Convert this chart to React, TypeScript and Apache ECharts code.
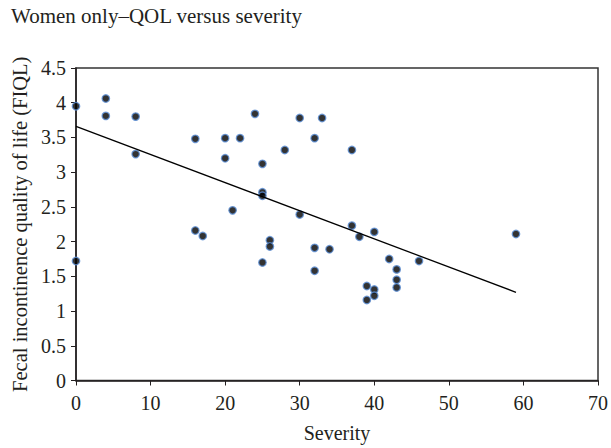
import React, { useEffect, useRef } from "react";
import * as echarts from "echarts";

const severity = [0, 0, 4, 4, 8, 8, 16, 16, 17, 20, 20, 21, 22, 24, 25, 25, 25, 25, 26, 26, 28, 30, 30, 32, 32, 32, 33, 34, 37, 37, 38, 39, 39, 40, 40, 40, 42, 43, 43, 43, 46, 59];
const fiql = [3.95, 1.72, 4.06, 3.81, 3.8, 3.26, 3.48, 2.16, 2.08, 3.49, 3.2, 2.45, 3.49, 3.84, 3.12, 2.71, 2.66, 1.7, 2.02, 1.93, 3.32, 3.78, 2.39, 3.49, 1.91, 1.58, 3.78, 1.89, 3.32, 2.23, 2.07, 1.36, 1.16, 2.14, 1.31, 1.22, 1.75, 1.6, 1.45, 1.34, 1.72, 2.11];
const trendX = [0, 59];
const trendY = [3.66, 1.27];

const FONT = "'Liberation Serif', 'DejaVu Serif', serif";
const INK = "#231f20";

export default function App() {
  const ref = useRef<HTMLDivElement>(null);
  useEffect(() => {
    if (!ref.current) return;
    const chart = echarts.init(ref.current, null, { renderer: "svg" });
    chart.setOption({
      animation: false,
      backgroundColor: "#fff",
      title: {
        text: "Women only–QOL versus severity",
        left: 11,
        top: 5,
        padding: 0,
        textStyle: { fontFamily: FONT, fontSize: 21, fontWeight: "normal", color: INK },
      },
      grid: {
        left: 76,
        right: 11,
        top: 68,
        bottom: 62.5,
        show: true,
        borderColor: "#333",
        borderWidth: 1.5,
        backgroundColor: "transparent",
      },
      xAxis: {
        type: "value",
        min: 0,
        max: 70,
        interval: 10,
        name: "Severity",
        nameLocation: "middle",
        nameGap: 42.5,
        nameTextStyle: { fontFamily: FONT, fontSize: 20, color: INK },
        axisLine: { show: true, lineStyle: { color: INK, width: 1.5 } },
        axisTick: { show: true, length: 5, lineStyle: { color: INK } },
        axisLabel: { fontFamily: FONT, fontSize: 20, color: INK, margin: 12 },
        splitLine: { show: false },
      },
      yAxis: {
        type: "value",
        min: 0,
        max: 4.5,
        interval: 0.5,
        name: "Fecal incontinence quality of life (FIQL)",
        nameLocation: "middle",
        nameGap: 46,
        nameTextStyle: { fontFamily: FONT, fontSize: 20.5, color: INK },
        axisLine: { show: true, lineStyle: { color: INK, width: 1.5 } },
        axisTick: { show: true, length: 5, lineStyle: { color: INK } },
        axisLabel: { fontFamily: FONT, fontSize: 20, color: INK, margin: 10 },
        splitLine: { show: false },
      },
      series: [
        {
          type: "line",
          data: trendX.map((x, i) => [x, trendY[i]]),
          showSymbol: false,
          symbol: "none",
          lineStyle: { color: "#000", width: 1.3 },
          silent: true,
        },
        {
          type: "scatter",
          data: severity.map((x, i) => [x, fiql[i]]),
          symbol: "circle",
          symbolSize: 7.5,
          itemStyle: { color: "#000", borderColor: "#5b8fd6", borderWidth: 1.3 },
        },
      ],
    });
    return () => chart.dispose();
  }, []);
  return <div ref={ref} style={{ position: "absolute", left: 0, top: 0, width: 611, height: 448 }} />;
}
